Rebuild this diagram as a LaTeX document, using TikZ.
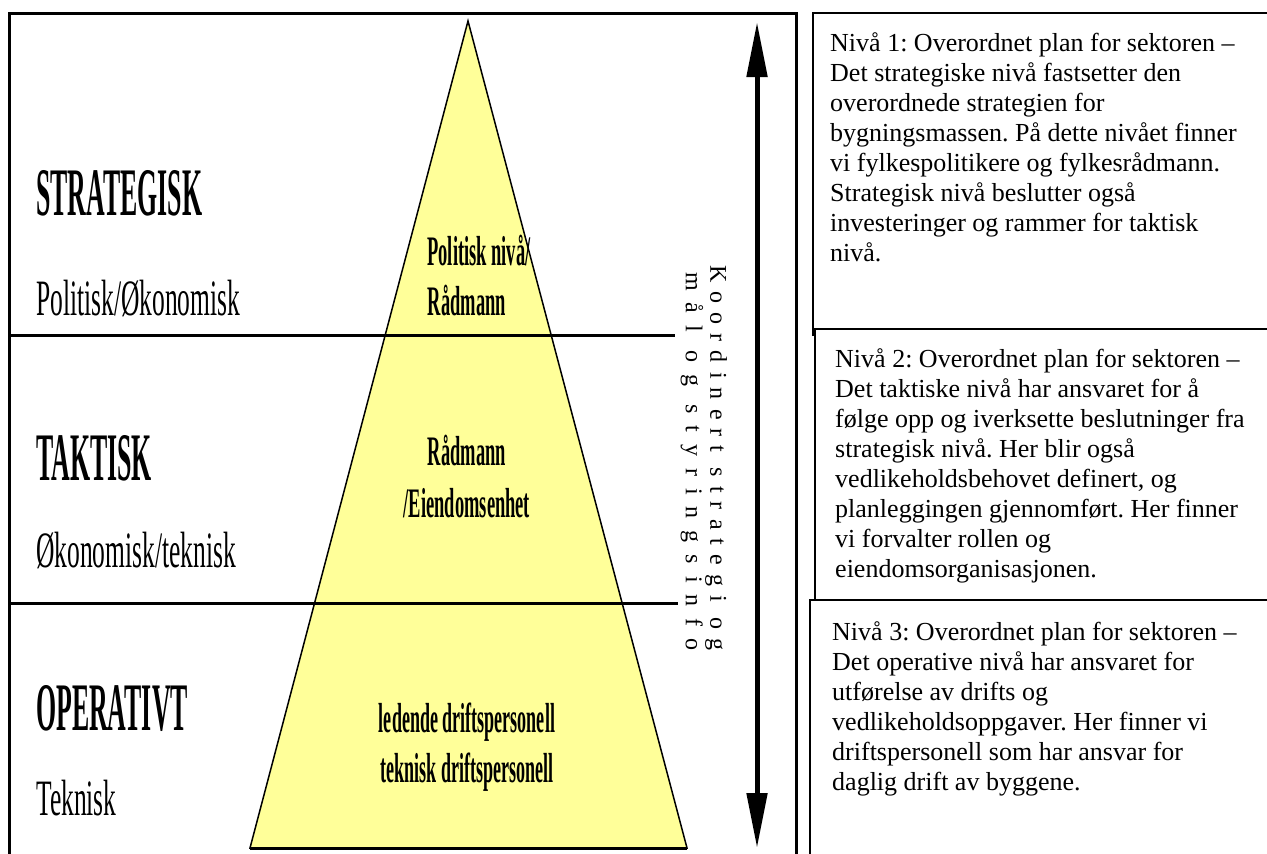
\documentclass[tikz,border=0pt]{standalone}
\usepackage{fontspec}
\setmainfont{Liberation Serif}
\usetikzlibrary{arrows.meta}
\definecolor{pyr}{RGB}{255,255,153}
\newcommand{\condtxt}[2]{\scalebox{#1}[1]{#2}}
\frenchspacing
\begin{document}
\begin{tikzpicture}[x=1pt,y=-1pt,
  frame/.style={line width=3pt},
  sepline/.style={line width=3pt},
  boxline/.style={line width=2pt},
  pyramid/.style={draw, fill=pyr, line width=1.5pt, line join=miter},
  infotext/.style={anchor=north west, align=left, inner sep=0pt, font=\frenchspacing\fontsize{26}{30}\selectfont},
  capslabel/.style={anchor=base west, inner sep=0pt, font=\bfseries\fontsize{68}{68}\selectfont},
  sublabel/.style={anchor=base west, inner sep=0pt, font=\fontsize{51}{51}\selectfont},
  pyrtext/.style={anchor=base, inner sep=0pt, font=\bfseries\fontsize{42}{42}\selectfont},
  vtext/.style={anchor=west, rotate=-90, inner sep=0pt, font=\fontsize{24}{24}\selectfont},
  dblarrow/.style={line width=5pt, {Triangle[width=20pt,length=55pt]}-{Triangle[width=20pt,length=55pt]}}
]
\useasboundingbox (0,0) rectangle (1267,854);
\fill[white] (0,0) rectangle (1267,854);

% left frame
\draw[frame] (9,862) -- (9,13) -- (796,13) -- (796,862);

% pyramid
\draw[pyramid] (468,21) -- (687,848) -- (250,848) -- cycle;
\draw[line width=3pt] (250,848) -- (687,848);

% separator lines
\draw[sepline] (9,335) -- (675,335);
\draw[sepline] (9,603) -- (678,603);

% left labels
\node[capslabel] (strat) at (36,215) {\condtxt{0.38}{STRATEGISK}};
\node[sublabel] (polok) at (36,315) {\condtxt{0.5}{Politisk/Økonomisk}};
\node[capslabel] (takt) at (36,480) {\condtxt{0.38}{TAKTISK}};
\node[sublabel] (oktek) at (36,567) {\condtxt{0.5}{Økonomisk/teknisk}};
\node[capslabel] (oper) at (36,730) {\condtxt{0.38}{OPERATIVT}};
\node[sublabel] (tekn) at (36,815) {\condtxt{0.5}{Teknisk}};

% pyramid texts
\node[pyrtext] (p1a) at (479,265) {\condtxt{0.44}{Politisk nivå/}};
\node[pyrtext] (p1b) at (467,315) {\condtxt{0.44}{Rådmann}};
\node[pyrtext] (p2a) at (467,465) {\condtxt{0.44}{Rådmann}};
\node[pyrtext] (p2b) at (467,517) {\condtxt{0.44}{/Eiendomsenhet}};
\node[pyrtext] (p3a) at (467,732) {\condtxt{0.43}{ledende driftspersonell}};
\node[pyrtext] (p3b) at (467,782) {\condtxt{0.43}{teknisk driftspersonell}};

% vertical texts
\node[vtext] (v1) at (716,265) {\addfontfeature{LetterSpace=38}Koordinert strategi og};
\node[vtext] (v2) at (692,272) {\addfontfeature{LetterSpace=50}mål og styringsinfo};

% arrow
\coordinate (atop) at (757,22);
\coordinate (abot) at (757,848);
\draw[dblarrow] (atop) -- (abot);

% right boxes
\draw[boxline] (813,336) -- (813,13) -- (1275,13);
\draw[boxline] (815,599) -- (815,329) -- (1275,329);
\draw[boxline] (810,862) -- (810,600) -- (1275,600);

\node[infotext] (t1) at (830,32) {Nivå 1: Overordnet plan for sektoren –\\
Det strategiske nivå fastsetter den\\
overordnede strategien for\\
bygningsmassen. På dette nivået finner\\
vi fylkespolitikere og fylkesrådmann.\\
Strategisk nivå beslutter også\\
investeringer og rammer for taktisk\\
nivå.};

\node[infotext] (t2) at (835,348) {Nivå 2: Overordnet plan for sektoren –\\
Det taktiske nivå har ansvaret for å\\
følge opp og iverksette beslutninger fra\\
strategisk nivå. Her blir også\\
vedlikeholdsbehovet definert, og\\
planleggingen gjennomført. Her finner\\
vi forvalter rollen og\\
eiendomsorganisasjonen.};

\node[infotext] (t3) at (832,621) {Nivå 3: Overordnet plan for sektoren –\\
Det operative nivå har ansvaret for\\
utførelse av drifts og\\
vedlikeholdsoppgaver. Her finner vi\\
driftspersonell som har ansvar for\\
daglig drift av byggene.};
\end{tikzpicture}
\end{document}
